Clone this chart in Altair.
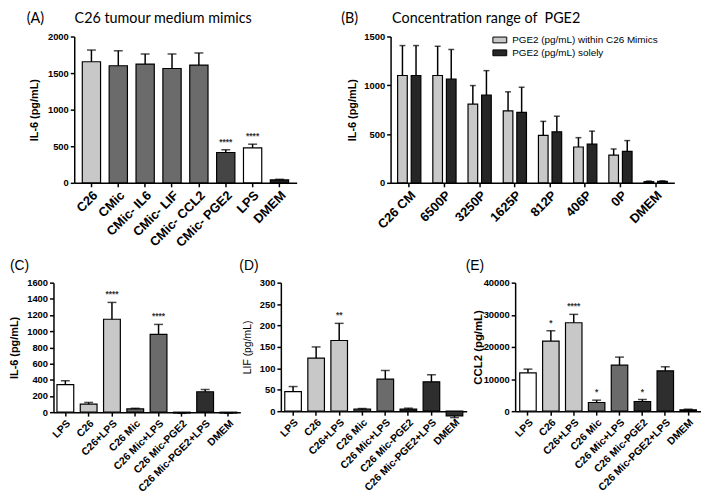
import altair as alt
import pandas as pd

# ---------------- data ----------------
A_cats = ["C26", "CMic", "CMic- IL6", "CMic- LIF", "CMic- CCL2", "CMic- PGE2", "LPS", "DMEM"]
A_vals = [1655, 1600, 1623, 1563, 1609, 414, 478, 40]
A_errs = [160, 205, 138, 198, 166, 38, 50, 8]
A_cols = ["#c8c8c8", "#6b6b6b", "#6b6b6b", "#6b6b6b", "#6b6b6b", "#454545", "#ffffff", "#1e1e1e"]
A_stars = ["", "", "", "", "", "****", "****", ""]

B_cats = ["C26 CM", "6500P", "3250P", "1625P", "812P", "406P", "0P", "DMEM"]
B_series = ["PGE2 (pg/mL) within C26 Mimics", "PGE2 (pg/mL) solely"]
B_mimic = [1100, 1100, 807, 737, 487, 367, 283, 12]
B_mimic_err = [307, 300, 190, 196, 143, 96, 64, 6]
B_solely = [1100, 1063, 900, 723, 523, 397, 323, 14]
B_solely_err = [307, 304, 250, 257, 160, 133, 110, 6]
B_cols = ["#c8c8c8", "#262626"]

CDE_cats = ["LPS", "C26", "C26+LPS", "C26 Mic", "C26 Mic+LPS", "C26 Mic-PGE2",
            "C26 Mic-PGE2+LPS", "DMEM"]
CDE_cols = ["#ffffff", "#c8c8c8", "#c8c8c8", "#6b6b6b", "#6b6b6b", "#2e2e2e", "#2e2e2e", "#2e2e2e"]

C_vals = [340, 100, 1148, 40, 960, -10, 252, -10]
C_errs = [48, 20, 208, 8, 124, 4, 28, 3]
C_stars = ["", "", "****", "", "****", "", "", ""]

D_vals = [45.7, 124, 165, 4.7, 75, 5, 68.5, -11]
D_errs = [11.8, 26, 40, 1.5, 20, 2, 16.5, 4]
D_stars = ["", "", "**", "", "", "", "", ""]

E_vals = [11950, 21820, 27530, 2700, 14340, 3010, 12570, 415]
E_errs = [1140, 3220, 2600, 730, 2490, 630, 1250, 205]
E_stars = ["", "*", "****", "*", "", "*", "", ""]

F = "Liberation Sans"
TF = "Lato"
EM = "\u2003"
TH = "\u2009"
NB = "\u00a0"


def title(text, offset, dx, font=TF, size=14.5):
    return alt.TitleParams(text=text, anchor="start", frame="group", offset=offset, dx=dx,
                           font=font, fontSize=size, fontWeight="normal", color="black")


def panel(cats, vals, errs, cols, stars, ytitle, ymax, ystep, w, h, ttl, toff, tdx,
          pi, po, capw, xlab=10.5, ylab=9.5, tfs=11, tw="bold", tx=-40, tfont=F, tsize=14):
    df = pd.DataFrame({"cat": cats, "val": vals, "err": errs, "col": cols, "star": stars})
    df["top"] = [v + e if v >= 0 else v - e for v, e in zip(vals, errs)]
    x = alt.X("cat:N", sort=cats, title=None,
              scale=alt.Scale(paddingInner=pi, paddingOuter=po),
              axis=alt.Axis(labelAngle=-45, labelFontSize=xlab, labelPadding=2))
    ysc = alt.Scale(domain=[0, ymax], nice=False)
    yax = alt.Axis(values=list(range(0, ymax + 1, ystep)), format="d", labelFontSize=ylab,
                   titleFontSize=tfs, titleFontWeight=tw, titleX=tx, titleBaseline="middle")
    y = alt.Y("val:Q", title=ytitle, scale=ysc, axis=yax)
    yt = alt.Y("top:Q", title=ytitle, scale=ysc, axis=yax)
    base = alt.Chart(df)
    bars = base.mark_bar(stroke="black", strokeWidth=1.2).encode(
        x=x, y=y, color=alt.Color("col:N", scale=None))
    rule = base.mark_rule(color="black", strokeWidth=1.5).encode(x=x, y=y, y2="top:Q")
    capm = base.mark_tick(color="black", thickness=1.5, size=capw, orient="horizontal").encode(x=x, y=yt)
    txt = base.mark_text(font=F, fontSize=8.5, fontWeight="bold", baseline="alphabetic", dy=-5,
                         color="#333333").encode(x=x, y=yt, text="star:N")
    return alt.layer(bars, rule, capm, txt).properties(
        width=w, height=h, title=title(ttl, toff, tdx, font=tfont, size=tsize))


def spacer(w, h):
    return alt.Chart(pd.DataFrame({"s": [0]})).mark_point(opacity=0, size=1).encode(
        x=alt.value(0), y=alt.value(0)).properties(width=w, height=h)


A = panel(A_cats, A_vals, A_errs, A_cols, A_stars, "IL-6 (pg/mL)", 2000, 500, 225, 148,
          "(A)" + EM + EM + TH * 5 + "C26 tumour medium mimics", 5, -48, 0.32, 0.3, 9,
          xlab=13, ylab=9.5, tx=-40, tfont=TF, tsize=14.5)

# ----- panel B (grouped) -----
dfB = pd.DataFrame({
    "cat": B_cats * 2,
    "series": [B_series[0]] * len(B_cats) + [B_series[1]] * len(B_cats),
    "val": B_mimic + B_solely,
    "err": B_mimic_err + B_solely_err,
})
dfB["top"] = dfB["val"] + dfB["err"]
xB = alt.X("cat:N", sort=B_cats, title=None, scale=alt.Scale(paddingInner=0.34, paddingOuter=0.2),
           axis=alt.Axis(labelAngle=-45, labelFontSize=13, labelPadding=2))
xoB = alt.XOffset("series:N", sort=B_series, scale=alt.Scale(paddingInner=0.29, paddingOuter=0))
yscB = alt.Scale(domain=[0, 1500], nice=False)
yaxB = alt.Axis(values=[0, 500, 1000, 1500], format="d", labelFontSize=9.5, titleFontSize=11,
                titleFontWeight="bold", titleX=-38, titleBaseline="middle")
yB = alt.Y("val:Q", title="IL-6 (pg/mL)", scale=yscB, axis=yaxB)
ytB = alt.Y("top:Q", title="IL-6 (pg/mL)", scale=yscB, axis=yaxB)
colB = alt.Color("series:N", sort=B_series, scale=alt.Scale(domain=B_series, range=B_cols),
                 legend=alt.Legend(orient="none", legendX=103, legendY=-4, title=None, padding=0,
                                   symbolType="M-1,-0.42L1,-0.42L1,0.42L-1,0.42Z", symbolSize=196,
                                   symbolStrokeColor="black", symbolStrokeWidth=1,
                                   labelFont=F, labelFontSize=10, labelColor="black",
                                   labelFontWeight="normal", rowPadding=0, labelOffset=5))
baseB = alt.Chart(dfB)
barsB = baseB.mark_bar(stroke="black", strokeWidth=1.2).encode(x=xB, xOffset=xoB, y=yB, color=colB)
ruleB = baseB.mark_rule(color="black", strokeWidth=1.5).encode(x=xB, xOffset=xoB, y=yB, y2="top:Q")
capB = baseB.mark_tick(color="black", thickness=1.5, size=6, orient="horizontal").encode(
    x=xB, xOffset=xoB, y=ytB)
B = alt.layer(barsB, ruleB, capB).properties(
    width=287, height=148,
    title=title("(B)" + EM * 3 + TH + "Concentration range of" + NB * 2 + "PGE2", 5, -50))

C = panel(CDE_cats, C_vals, C_errs, CDE_cols, C_stars, "IL-6 (pg/mL)", 1600, 200, 189, 131,
          "(C)", 5, -44, 0.28, 0.15, 9, tx=-39)
D = panel(CDE_cats, D_vals, D_errs, CDE_cols, D_stars, "LIF (pg/mL)", 300, 50, 188, 130,
          "(D)", 5, -42, 0.28, 0.17, 9, tfs=10.5, tw="normal", tx=-34)
E = panel(CDE_cats, E_vals, E_errs, CDE_cols, E_stars, "CCL2 (pg/mL)", 40000, 10000, 188, 130,
          "(E)", 5, -50, 0.28, 0.2, 9, tfs=11.5, tx=-37)

# rows align on their first sub-view's plot origin: a tiny spacer with a negative
# gap pushes panel A's plot 21 px to the right of panel C's
row1_inner = alt.hconcat(A, B, spacing=45).resolve_scale(color="independent").resolve_legend(
    color="independent")
row1 = alt.hconcat(spacer(3, 1), row1_inner, spacing=-30).resolve_scale(
    color="independent").resolve_legend(color="independent")
row2 = alt.hconcat(C, D, E, spacing=-1)
chart = alt.vconcat(row1, row2, spacing=9).resolve_scale(color="independent").resolve_legend(
    color="independent").properties(
    padding={"left": 0, "top": 0, "right": 0, "bottom": 2}
).configure_axis(
    domainColor="black", domainWidth=1.5, tickColor="black", tickWidth=1.5, tickSize=4,
    labelColor="black", titleColor="black", labelFont=F, titleFont=F,
    labelFontWeight="bold", grid=False
).configure_view(stroke=None)

chart.save("out.html", embed_options={"renderer": "svg", "actions": False})
